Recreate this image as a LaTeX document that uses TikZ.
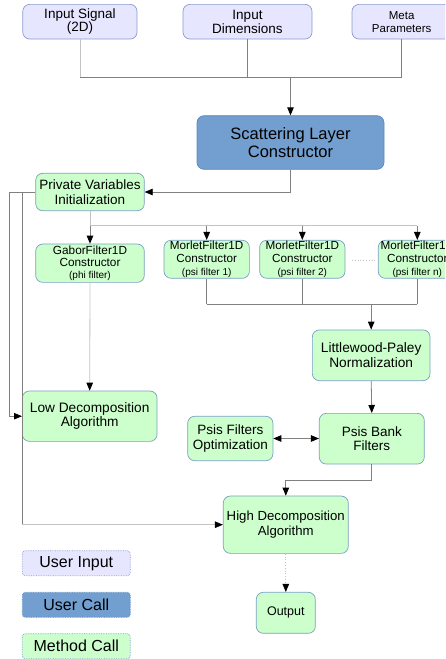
\documentclass[tikz,border=0pt]{standalone}
\usepackage{fontspec}
\setmainfont{Liberation Sans}
\usetikzlibrary{arrows.meta}

\definecolor{inputfill}{RGB}{230,230,255}
\definecolor{inputedge}{RGB}{140,155,205}
\definecolor{callfill}{RGB}{114,159,207}
\definecolor{calledge}{RGB}{95,135,190}
\definecolor{methodfill}{RGB}{204,255,204}
\definecolor{methodedge}{RGB}{120,160,195}
\definecolor{wiregray}{RGB}{128,128,128}
\definecolor{wirelight}{RGB}{195,195,195}

\tikzset{
  box/.style={rounded corners=7pt, line width=0.7pt, align=center, inner sep=0pt, text=black},
  inbox/.style={box, fill=inputfill, draw=inputedge},
  callbox/.style={box, fill=callfill, draw=calledge},
  methbox/.style={box, fill=methodfill, draw=methodedge},
  legbox/.style={rounded corners=3pt, densely dotted, line width=0.7pt, inner sep=0pt,
    minimum width=108pt, minimum height=25pt, font=\fontsize{16}{18}\selectfont},
  wire/.style={draw=wiregray, line width=0.8pt},
  lightwire/.style={draw=wirelight, line width=0.8pt},
  tip/.style={-{Triangle[length=8pt,width=6.5pt,color=black]}},
  dtip/.style={{Triangle[length=8pt,width=6.5pt,color=black]}-{Triangle[length=8pt,width=6.5pt,color=black]}},
}

\begin{document}
\begin{tikzpicture}[x=1pt, y=-1pt]
\useasboundingbox (0,0) rectangle (445,659);
\clip (0,0) rectangle (445,659);

% user inputs
\node[inbox, minimum width=114.3pt, minimum height=34.7pt, font=\fontsize{13.5}{13}\selectfont] (sig) at (79.9,21.7) {Input Signal\\(2D)};
\node[inbox, minimum width=129pt, minimum height=34.7pt, font=\fontsize{13.5}{13.5}\selectfont] (dim) at (247.5,21.7) {Input\\Dimensions};
\node[inbox, minimum width=99.4pt, minimum height=34.7pt, font=\fontsize{11.5}{13}\selectfont] (meta) at (401.7,21.7) {Meta\\Parameters};

% user call
\node[callbox, minimum width=187pt, minimum height=53.6pt, font=\fontsize{16.5}{18}\selectfont] (scat) at (290.5,142.5) {Scattering Layer\\Constructor};

% method calls
\node[methbox, minimum width=108.6pt, minimum height=37.4pt, font=\fontsize{13.5}{14.5}\selectfont] (priv) at (90,192) {Private Variables\\Initialization};

\node[methbox, minimum width=108.6pt, minimum height=38.3pt, font=\fontsize{11.8}{12.3}\selectfont] (gabor) at (90,263.2)
  {GaborFilter1D\\Constructor\\{\fontsize{10}{11.7}\selectfont (phi filter)}};
\node[methbox, minimum width=85.3pt, minimum height=38pt, font=\fontsize{11.7}{13}\selectfont] (m1) at (206.7,259.3)
  {MorletFilter1D\\Constructor\\{\fontsize{10}{11.7}\selectfont (psi filter 1)}};
\node[methbox, minimum width=85.3pt, minimum height=38pt, font=\fontsize{11.7}{13}\selectfont] (m2) at (302.3,259.3)
  {MorletFilter1D\\Constructor\\{\fontsize{10}{11.7}\selectfont (psi filter 2)}};
\node[methbox, minimum width=78pt, minimum height=38pt, font=\fontsize{11.7}{13}\selectfont] (mn) at (417.3,259.3)
  {MorletFilter1D\\Constructor\\{\fontsize{10}{11.7}\selectfont (psi filter n)}};

\node[methbox, minimum width=117.7pt, minimum height=50.7pt, font=\fontsize{13.7}{15}\selectfont] (lw) at (371.2,355.3) {Littlewood-Paley\\Normalization};
\node[methbox, minimum width=105pt, minimum height=50.7pt, font=\fontsize{13.5}{14.5}\selectfont] (bank) at (371.8,438.7) {Psis Bank\\Filters};
\node[methbox, minimum width=85.3pt, minimum height=44.4pt, font=\fontsize{13.5}{14.5}\selectfont] (opt) at (230.3,438.5) {Psis Filters\\Optimization};
\node[methbox, minimum width=134.7pt, minimum height=50.3pt, font=\fontsize{13.7}{14.5}\selectfont] (low) at (89.7,416.2) {Low Decomposition\\Algorithm};
\node[methbox, minimum width=125pt, minimum height=57.3pt, font=\fontsize{13.2}{14.5}\selectfont] (high) at (285.8,524.7) {High Decomposition\\Algorithm};
\node[methbox, minimum width=59pt, minimum height=41pt, font=\fontsize{12.5}{14}\selectfont] (out) at (285.8,612.8) {Output};

% legend
\node[legbox, fill=inputfill, draw=inputedge] (legin) at (76.3,563.2) {User Input};
\node[legbox, fill=callfill, draw=calledge] (legcall) at (76.3,604.8) {User Call};
\node[legbox, fill=methodfill, draw=methodedge] (legmeth) at (76.3,646.2) {Method Call};

% inputs gathered into the constructor
\coordinate (busL) at (79.9,77.7);
\coordinate (busR) at (401.7,77.7);
\coordinate (busM) at (290.5,77.7);
\draw[lightwire] (sig.south) -- (busL);
\draw[wire] (dim.south) -- (dim.south |- busL);
\draw[wire] (meta.south) -- (busR);
\draw[wire] (busL) -- (busR);
\draw[wire, tip] (busM) -- (scat.north);

% constructor to initialization
\draw[wire, tip] (scat.south) |- (priv.east);

% initialization to the two decomposition algorithms
\coordinate (lA) at (9,192);
\coordinate (lB) at (22.3,192);
\coordinate (lC) at (22.3,524.7);
\draw[wire] (priv.west) -- (lA);
\draw[wire, tip] (lA) |- (low.west);
\draw[wire] (lB) -- (lC);
\draw[lightwire, tip] (lC) -- (high.west);

% initialization to the filter constructors
\coordinate (fan) at (90,225.7);
\coordinate (fanR) at (417.3,225.7);
\draw[lightwire] (priv.south) -- (fan);
\draw[lightwire] (fan) -- (fanR);
\draw[wire, tip] (gabor.north |- fan) -- (gabor.north);
\draw[wire, tip] (m1.north |- fan) -- (m1.north);
\draw[wire, tip] (m2.north |- fan) -- (m2.north);
\draw[wire, tip] (fanR) -- (mn.north);
\coordinate (gapA) at (352,260);
\coordinate (gapB) at (375,260);
\draw[wirelight, line width=0.8pt, dotted] (gapA) -- (gapB);

% morlet filters gathered into the normalization
\coordinate (mbus) at (371.2,304);
\coordinate (mbusR) at (417.3,304);
\draw[wire] (m1.south) -- (m1.south |- mbus);
\draw[wire] (m2.south) -- (m2.south |- mbus);
\draw[wire] (mn.south) -- (mbusR);
\draw[wire] (m1.south |- mbus) -- (mbusR);
\draw[wire, tip] (mbus) -- (lw.north);

% filter bank chain
\coordinate (bend) at (371.8,480);
\draw[wire, tip] (lw.south) -- (bank.north);
\draw[wire, dtip] (opt.east) -- (bank.west |- opt.east);
\draw[wire, tip] (bank.south) -- (bend) -| (high.north);
\draw[lightwire, tip] (gabor.south) -- (low.north);
\draw[lightwire, dotted, tip] (high.south) -- (out.north);
\end{tikzpicture}
\end{document}
